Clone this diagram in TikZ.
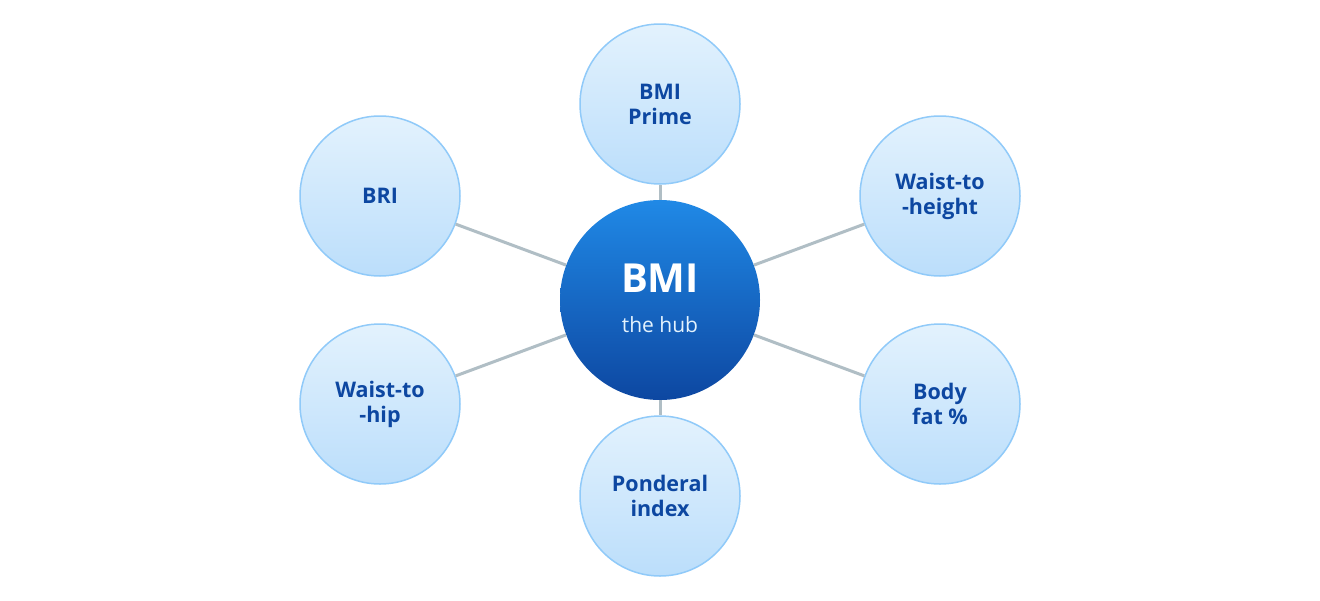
\documentclass[tikz,border=0pt]{standalone}
\usepackage{fontspec}
\setmainfont{Open Sans}
\definecolor{hubtop}{HTML}{2089E6}
\definecolor{hubbot}{HTML}{0D47A1}
\definecolor{sattop}{HTML}{E3F2FD}
\definecolor{satbot}{HTML}{BBDEFB}
\definecolor{satline}{HTML}{90CAF9}
\definecolor{sattext}{HTML}{0D47A1}
\definecolor{edgecol}{HTML}{B0BEC5}
\definecolor{hubsub}{HTML}{E3F2FD}
\begin{document}
\begin{tikzpicture}[x=1pt,y=-1pt,
  hub/.style={circle,minimum size=200pt,inner sep=0pt,top color=hubtop,bottom color=hubbot,draw=none},
  sat/.style={circle,minimum size=160pt,inner sep=0pt,top color=sattop,bottom color=satbot,draw=satline,line width=1.5pt,
     font=\fontsize{21.5}{25}\selectfont\bfseries,text=sattext,align=center},
  spoke/.style={draw=edgecol,line width=3pt}]
\useasboundingbox[fill=white] (0,0) rectangle (1320,600);
\node[hub] (hub) at (660,300) {};
\node[font=\fontsize{40}{42}\selectfont\bfseries,text=white] (hubt) at (660,278) {BMI};
\node[font=\fontsize{21}{24}\selectfont,text=hubsub] (hubs) at (660,325) {the hub};
\node[sat] (s1) at (660,104) {BMI\\Prime};
\node[sat] (s2) at (940,196) {Waist-to\\-height};
\node[sat] (s3) at (940,404) {Body\\fat \%};
\node[sat] (s4) at (660,496) {Ponderal\\index};
\node[sat] (s5) at (380,404) {Waist-to\\-hip};
\node[sat] (s6) at (380,196) {BRI};
\foreach \s in {s1,s2,s3,s4,s5,s6}{
  \path[spoke] (hub) -- (\s);
}
\end{tikzpicture}
\end{document}
